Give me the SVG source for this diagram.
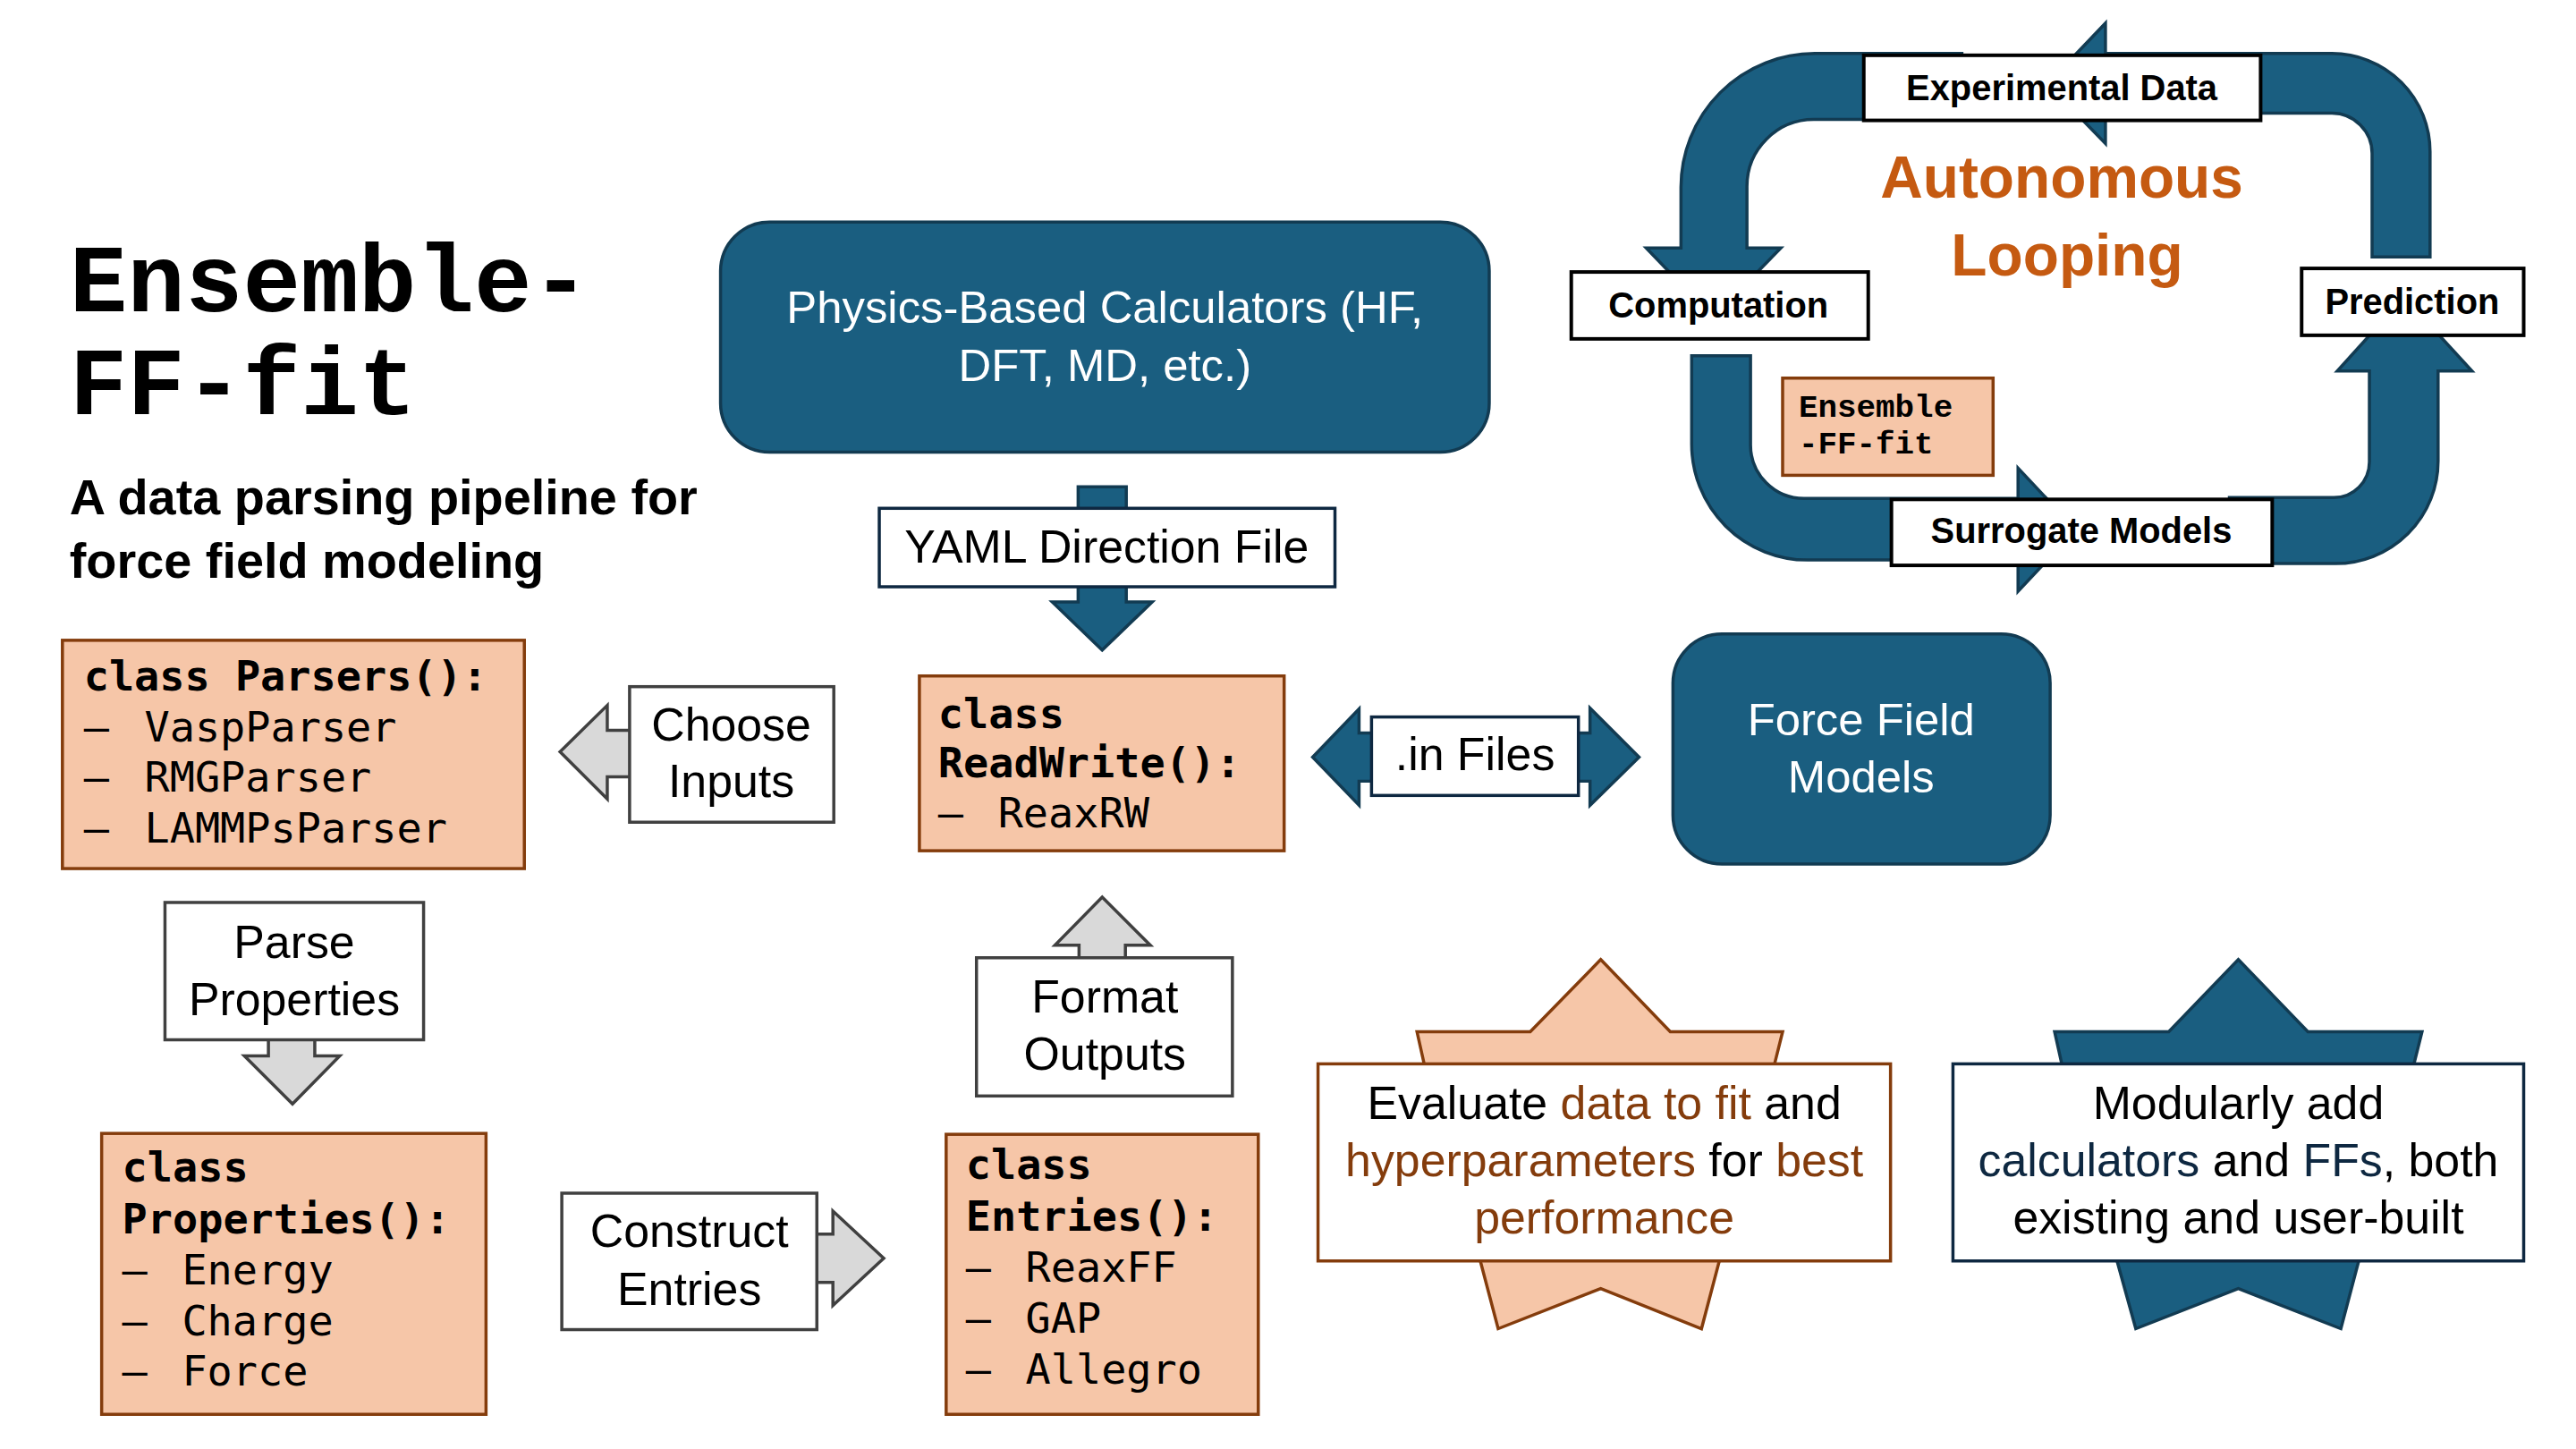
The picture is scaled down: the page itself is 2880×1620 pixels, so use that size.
<svg xmlns="http://www.w3.org/2000/svg" width="2880" height="1620" viewBox="0 0 2880 1620">
<style>
.bg{fill:#ffffff}
.blue{fill:#1a5e80;stroke:#123b52;stroke-width:3.5}
.peach{fill:#f6c6a8;stroke:#843c0c;stroke-width:3.5}
.wbox{fill:#ffffff;stroke:#0e2841;stroke-width:3.5}
.kbox{fill:#ffffff;stroke:#000000;stroke-width:4}
.gbox{fill:#ffffff;stroke:#404040;stroke-width:3.5}
.garrow{fill:#d9d9d9;stroke:#404040;stroke-width:3.5;stroke-linejoin:miter}
.barrow{fill:#1a5e80;stroke:#123b52;stroke-width:3.5}
.sans{font-family:"Liberation Sans",Arial,sans-serif}
.lbl{font-family:"Liberation Sans",Arial,sans-serif;font-size:52px;fill:#000;text-anchor:middle}
.wlbl{font-family:"Liberation Sans",Arial,sans-serif;font-size:51px;fill:#fff;text-anchor:middle}
.blbl{font-family:"Liberation Sans",Arial,sans-serif;font-size:40px;font-weight:bold;fill:#000;text-anchor:middle}
.mono{font-family:"DejaVu Sans Mono",monospace;font-size:47px;fill:#000}
.monob{font-family:"DejaVu Sans Mono",monospace;font-size:47px;font-weight:bold;fill:#000}
.brown{fill:#843c0c}
.navy{fill:#0e2841}
</style>
<rect class="bg" x="0" y="0" width="2880" height="1620"/>
<g transform="scale(0.997)">
<g id="title">
<text x="78" y="349" font-family="'Liberation Mono','Courier New',monospace" font-size="108" font-weight="bold" fill="#000">Ensemble-</text>
<text x="78" y="464" font-family="'Liberation Mono','Courier New',monospace" font-size="108" font-weight="bold" fill="#000">FF-fit</text>
<text x="78" y="577" class="sans" font-size="56" font-weight="bold" fill="#000">A data parsing pipeline for</text>
<text x="78" y="648" class="sans" font-size="56" font-weight="bold" fill="#000">force field modeling</text>
</g>

<g id="connectors">
<path class="barrow" d="M1209,546 L1263,546 L1263,675 L1292,675 L1236,729 L1180,675 L1209,675 Z"/>
<path class="barrow" d="M1472,849 L1524,795 L1524,822 L1783,822 L1783,794 L1838,849 L1783,903 L1783,876 L1524,876 L1524,903 Z"/>
<path class="garrow" d="M720,819 L681,819 L681,791 L628,843 L681,896 L681,871 L720,871"/>
<path class="garrow" d="M301,1150 L301,1184 L274,1184 L328,1238 L381,1184 L353,1184 L353,1150"/>
<path class="garrow" d="M900,1384 L934,1384 L934,1358 L991,1411 L934,1464 L934,1438 L900,1438"/>
<path class="garrow" d="M1210,1090 L1210,1060 L1183,1060 L1236,1006 L1290,1060 L1262,1060 L1262,1090"/>
<path class="barrow" d="M2200,60 L2035,60 A150,150 0 0 0 1885,210 L1885,278 L1846,278 L1921,356 L1997,278 L1959,278 L1959,209 A75,75 0 0 1 2034,134 L2200,134 Z"/>
<path class="barrow" d="M1897,399 L1963,399 L1963,499 A60,60 0 0 0 2023,559 L2263,559 L2263,525 L2328,594 L2263,663 L2263,628 L2027,628 A130,130 0 0 1 1897,498 Z"/>
<path class="barrow" d="M2500,558 L2617,558 A40,40 0 0 0 2657,518 L2657,416 L2621,416 L2696,333 L2772,416 L2734,416 L2734,517 A115,115 0 0 1 2619,632 L2500,632 Z"/>
<path class="barrow" d="M2725,288 L2660,288 L2660,172 A45,45 0 0 0 2615,127 L2361,127 L2361,161 L2296,94 L2361,26 L2361,60 L2615,60 A110,110 0 0 1 2725,170 Z"/>
</g>

<g id="physics">
<rect class="blue" x="808" y="249" width="862" height="258" rx="55"/>
<text class="wlbl" x="1239" y="362">Physics-Based Calculators (HF,</text>
<text class="wlbl" x="1239" y="427">DFT, MD, etc.)</text>
</g>

<g id="yaml">
<rect class="wbox" x="986" y="570" width="511" height="88"/>
<text class="lbl" x="1241" y="631" font-size="50">YAML Direction File</text>
</g>

<g id="readwrite">
<rect class="peach" x="1031" y="758" width="409" height="196"/>
<text class="monob" x="1052" y="816">class</text>
<text class="monob" x="1052" y="872">ReadWrite():</text>
<text class="mono" y="928"><tspan x="1052">–</tspan><tspan x="1119">ReaxRW</tspan></text>
</g>

<g id="infiles">
<rect class="wbox" x="1538" y="804" width="232" height="88"/>
<text class="lbl" x="1654" y="864" font-size="50">.in Files</text>
</g>

<g id="forcefield">
<rect class="blue" x="1876" y="711" width="423" height="258" rx="55"/>
<text class="wlbl" x="2087" y="824">Force Field</text>
<text class="wlbl" x="2087" y="889">Models</text>
</g>

<g id="parsers">
<rect class="peach" x="70" y="718" width="518" height="256"/>
<text class="monob" x="94" y="774">class Parsers():</text>
<text class="mono" y="831"><tspan x="94">–</tspan><tspan x="162">VaspParser</tspan></text>
<text class="mono" y="888"><tspan x="94">–</tspan><tspan x="162">RMGParser</tspan></text>
<text class="mono" y="945"><tspan x="94">–</tspan><tspan x="162">LAMMPsParser</tspan></text>
</g>

<g id="choose">
<rect class="gbox" x="706" y="770" width="229" height="152"/>
<text class="lbl" x="820" y="830">Choose</text>
<text class="lbl" x="820" y="894">Inputs</text>
</g>

<g id="parse">
<rect class="gbox" x="185" y="1012" width="290" height="154"/>
<text class="lbl" x="330" y="1074">Parse</text>
<text class="lbl" x="330" y="1138">Properties</text>
</g>

<g id="properties">
<rect class="peach" x="114" y="1271" width="431" height="315"/>
<text class="monob" x="137" y="1325">class</text>
<text class="monob" x="137" y="1383">Properties():</text>
<text class="mono" y="1440"><tspan x="137">–</tspan><tspan x="204">Energy</tspan></text>
<text class="mono" y="1497"><tspan x="137">–</tspan><tspan x="204">Charge</tspan></text>
<text class="mono" y="1554"><tspan x="137">–</tspan><tspan x="204">Force</tspan></text>
</g>

<g id="construct">
<rect class="gbox" x="630" y="1338" width="286" height="153"/>
<text class="lbl" x="773" y="1398">Construct</text>
<text class="lbl" x="773" y="1463">Entries</text>
</g>

<g id="format">
<rect class="gbox" x="1095" y="1074" width="287" height="155"/>
<text class="lbl" x="1239" y="1135">Format</text>
<text class="lbl" x="1239" y="1200">Outputs</text>
</g>

<g id="entries">
<rect class="peach" x="1061" y="1272" width="350" height="314"/>
<text class="monob" x="1083" y="1322">class</text>
<text class="monob" x="1083" y="1380">Entries():</text>
<text class="mono" y="1437"><tspan x="1083">–</tspan><tspan x="1150">ReaxFF</tspan></text>
<text class="mono" y="1494"><tspan x="1083">–</tspan><tspan x="1150">GAP</tspan></text>
<text class="mono" y="1552"><tspan x="1083">–</tspan><tspan x="1150">Allegro</tspan></text>
</g>

<g id="evaluate">
<polygon class="peach" points="1795,1076 1873,1157 1999,1157 1990,1193 1960,1300 1928,1414 1908,1490 1795,1445 1680,1490 1660,1414 1630,1300 1597,1193 1589,1157 1716,1157"/>
<rect x="1478" y="1193" width="642" height="221" fill="#ffffff" stroke="#843c0c" stroke-width="3.5"/>
<text class="lbl" x="1799" y="1255" font-size="51">Evaluate <tspan class="brown">data to fit</tspan> and</text>
<text class="lbl" x="1799" y="1319" font-size="51"><tspan class="brown">hyperparameters</tspan> for <tspan class="brown">best</tspan></text>
<text class="lbl brown" x="1799" y="1383" font-size="51">performance</text>
</g>

<g id="modular">
<polygon class="blue" points="2510,1076 2588,1157 2716,1157 2707,1193 2680,1300 2645,1414 2625,1490 2510,1445 2395,1490 2374,1414 2340,1300 2312,1193 2304,1157 2432,1157"/>
<rect x="2190" y="1193" width="640" height="221" fill="#ffffff" stroke="#0e2841" stroke-width="3.5"/>
<text class="lbl" x="2510" y="1255" font-size="51">Modularly add</text>
<text class="lbl" x="2510" y="1319" font-size="51"><tspan class="navy">calculators</tspan> and <tspan class="navy">FFs</tspan>, both</text>
<text class="lbl" x="2510" y="1383" font-size="51">existing and user-built</text>
</g>

<g id="loop-labels">
<text x="2312" y="222" class="sans" font-size="66" font-weight="bold" fill="#c55a11" text-anchor="middle">Autonomous</text>
<text x="2318" y="309" class="sans" font-size="66" font-weight="bold" fill="#c55a11" text-anchor="middle">Looping</text>
</g>

<g id="experimental">
<rect class="kbox" x="2090" y="62" width="445" height="73"/>
<text class="blbl" x="2312" y="112">Experimental Data</text>
</g>

<g id="computation">
<rect class="kbox" x="1762" y="305" width="333" height="75"/>
<text class="blbl" x="1927" y="356">Computation</text>
</g>

<g id="prediction">
<rect class="kbox" x="2581" y="301" width="249" height="75"/>
<text class="blbl" x="2705" y="352">Prediction</text>
</g>

<g id="surrogate">
<rect class="kbox" x="2121" y="560" width="427" height="74"/>
<text class="blbl" x="2334" y="609">Surrogate Models</text>
</g>

<g id="ensemble-small">
<rect class="peach" x="1999" y="424" width="236" height="109"/>
<text x="2017" y="467" font-family="'Liberation Mono','Courier New',monospace" font-size="36" font-weight="bold" fill="#000">Ensemble</text>
<text x="2017" y="509" font-family="'Liberation Mono','Courier New',monospace" font-size="36" font-weight="bold" fill="#000">-FF-fit</text>
</g>
</g>
</svg>
